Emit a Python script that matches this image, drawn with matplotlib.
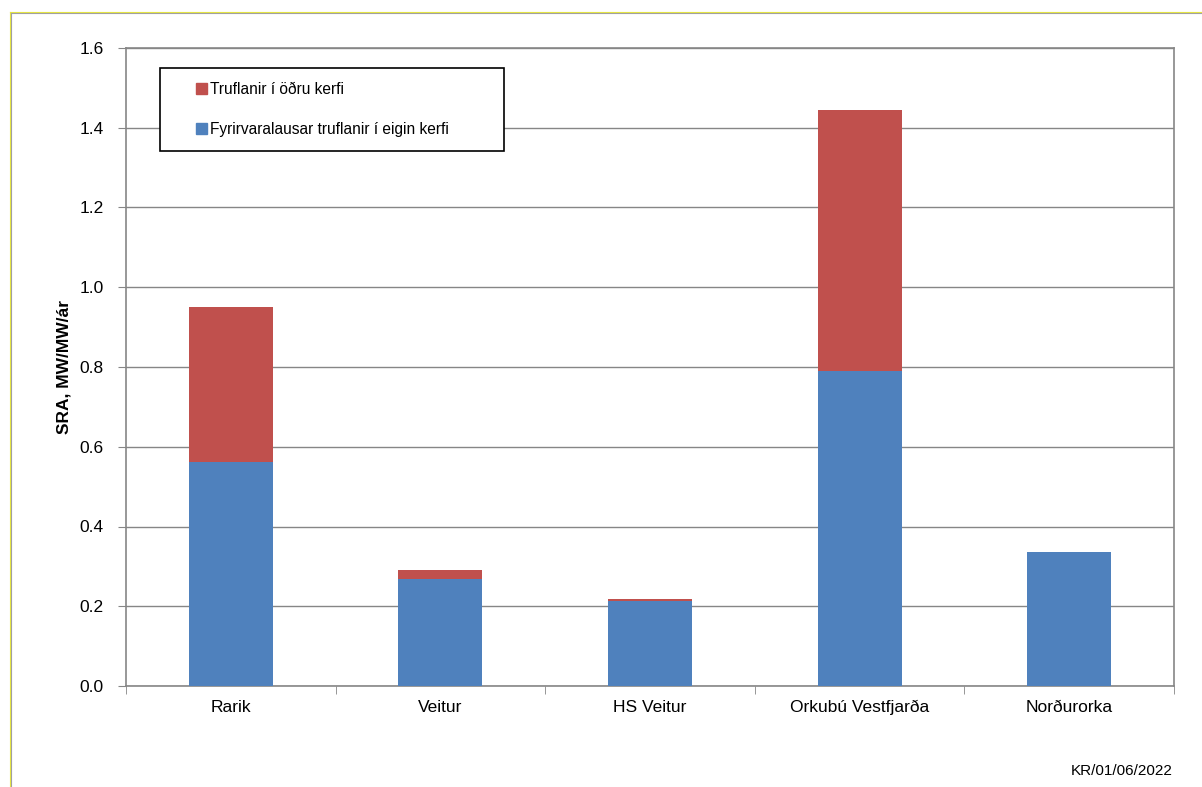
import matplotlib
matplotlib.use('Agg')
import matplotlib.pyplot as plt
import numpy as np
from matplotlib.patches import Rectangle
from matplotlib.legend_handler import HandlerPatch
from matplotlib.lines import Line2D
import matplotlib.patches as mpatches

plt.rcParams['font.family'] = ['Liberation Sans', 'DejaVu Sans']

companies = ['Rarik', 'Veitur', 'HS Veitur', 'Orkubú Vestfjarða', 'Norðurorka']
eigin_kerfi = [0.562, 0.268, 0.213, 0.790, 0.337]
odru_kerfi = [0.388, 0.023, 0.004, 0.654, 0.0]

C_BLUE = '#4F81BD'
C_RED = '#C0504D'
C_GRID = '#868686'

fig = plt.figure(figsize=(12.02, 7.87), dpi=100)
fig.patch.set_facecolor('white')
ax = fig.add_axes([126/1202, 1 - 686/787, (1174-126)/1202, (686-48)/787])

# outer chart-area frame (cut off at right and bottom)
fig.add_artist(Line2D([10/1202, 1], [1 - 12/787, 1 - 12/787], color='#E8E840', lw=0.8))
fig.add_artist(Line2D([10/1202, 10/1202], [0, 1 - 12/787], color='#E8E840', lw=0.8))
fig.add_artist(Line2D([11/1202, 1], [1 - 13/787, 1 - 13/787], color='#A0A0A0', lw=0.8))
fig.add_artist(Line2D([11/1202, 11/1202], [0, 1 - 13/787], color='#A0A0A0', lw=0.8))

x = np.arange(len(companies))
ax.bar(x, eigin_kerfi, width=0.4, color=C_BLUE, zorder=3,
       label='Fyrirvaralausar truflanir í eigin kerfi')
ax.bar(x, odru_kerfi, width=0.4, bottom=eigin_kerfi, color=C_RED, zorder=3,
       label='Truflanir í öðru kerfi')

ax.set_xlim(-0.5, len(companies) - 0.5)
ax.set_ylim(0, 1.6)
ax.set_yticks(np.arange(0, 1.61, 0.2))
ax.set_yticklabels([f'{v:.1f}' for v in np.arange(0, 1.61, 0.2)])
ax.yaxis.grid(True, color=C_GRID, lw=1.0, zorder=0)
ax.set_axisbelow(True)

ax.set_xticks(x)
ax.set_xticklabels(companies)
ax.set_xticks(np.arange(-0.5, len(companies), 1.0), minor=True)
ax.tick_params(axis='x', which='major', length=0, labelsize=12.5, pad=10)
ax.tick_params(axis='x', which='minor', length=6, color=C_GRID, direction='out')
ax.tick_params(axis='y', length=6, color=C_GRID, labelsize=12.5, pad=10)

for s in ax.spines.values():
    s.set_color(C_GRID)
    s.set_linewidth(1.2)

ax.set_ylabel('SRA, MW/MW/ár', fontsize=12.5, fontweight='bold', labelpad=6)


def small_square(legend, orig_handle, xdescent, ydescent, width, height, fontsize):
    s = 8
    return Rectangle((-xdescent + width - s, -ydescent + (height - s) / 2), s, s)


handles = [mpatches.Patch(color=C_RED, label='Truflanir í öðru kerfi'),
           mpatches.Patch(color=C_BLUE, label='Fyrirvaralausar truflanir í eigin kerfi')]
x0 = (160 - 126) / 1048
w = (504 - 160) / 1048
y1 = (686 - 68) / 638
leg = ax.legend(handles=handles, loc='upper left', bbox_to_anchor=(x0, y1 - 0.2, w, 0.2),
                mode='expand', borderaxespad=0, fontsize=11.2, frameon=True, fancybox=False,
                edgecolor='black', framealpha=1, borderpad=0.9, labelspacing=1.6,
                handlelength=2.15, handletextpad=0.15,
                handler_map={mpatches.Patch: HandlerPatch(patch_func=small_square)})
leg.get_frame().set_linewidth(1.2)

fig.text(1173/1202, 1 - 771/787, 'KR/01/06/2022', ha='right', va='center', fontsize=11)

fig.savefig('out.png', dpi=100, facecolor='white')
